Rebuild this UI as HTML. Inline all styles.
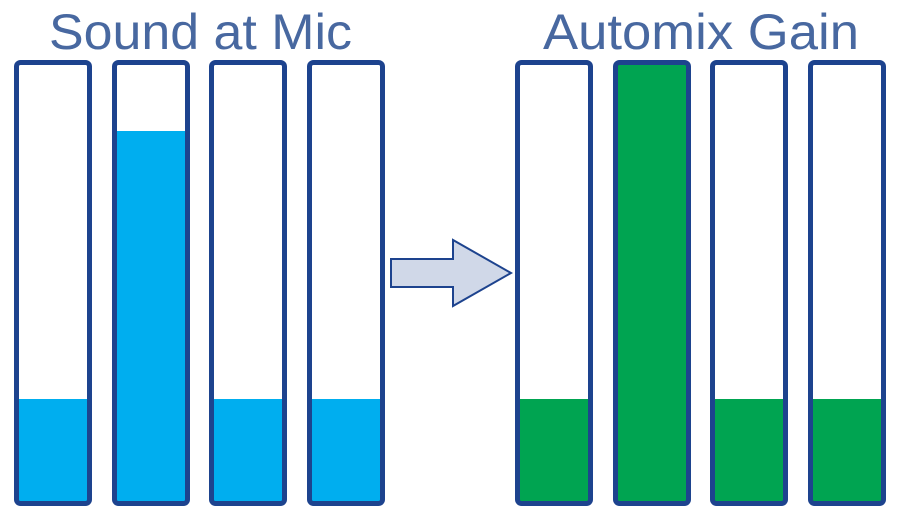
<!DOCTYPE html>
<html><head><meta charset="utf-8"><style>
html,body{margin:0;padding:0;background:#fff;}
svg{display:block;}
</style></head><body>
<svg width="901" height="515" viewBox="0 0 901 515" xmlns="http://www.w3.org/2000/svg">
<g font-family="'Liberation Sans', 'DejaVu Sans', sans-serif" font-size="50" fill="#4868a0">
<text x="49" y="49" textLength="303" lengthAdjust="spacingAndGlyphs">Sound at Mic</text>
<text x="543" y="49" textLength="316" lengthAdjust="spacingAndGlyphs">Automix Gain</text>
</g>
<!-- left fills -->
<g fill="#00aeef">
<rect x="17" y="399" width="72" height="104"/>
<rect x="115" y="131" width="72" height="372"/>
<rect x="212" y="399" width="72" height="104"/>
<rect x="310" y="399" width="72" height="104"/>
</g>
<g fill="#00a451">
<rect x="518" y="399" width="72" height="104"/>
<rect x="616" y="62" width="72" height="441"/>
<rect x="713" y="399" width="72" height="104"/>
<rect x="811" y="399" width="72" height="104"/>
</g>
<g fill="none" stroke="#1d438e" stroke-width="5">
<rect x="16.5" y="62.5" width="73" height="441" rx="4"/>
<rect x="114.5" y="62.5" width="73" height="441" rx="4"/>
<rect x="211.5" y="62.5" width="73" height="441" rx="4"/>
<rect x="309.5" y="62.5" width="73" height="441" rx="4"/>
<rect x="517.5" y="62.5" width="73" height="441" rx="4"/>
<rect x="615.5" y="62.5" width="73" height="441" rx="4"/>
<rect x="712.5" y="62.5" width="73" height="441" rx="4"/>
<rect x="810.5" y="62.5" width="73" height="441" rx="4"/>
</g>
<polygon points="391,259 453,259 453,240 511,273 453,306 453,287 391,287" fill="#d0d8e8" stroke="#1d438e" stroke-width="2" stroke-linejoin="miter"/>
</svg>
</body></html>
